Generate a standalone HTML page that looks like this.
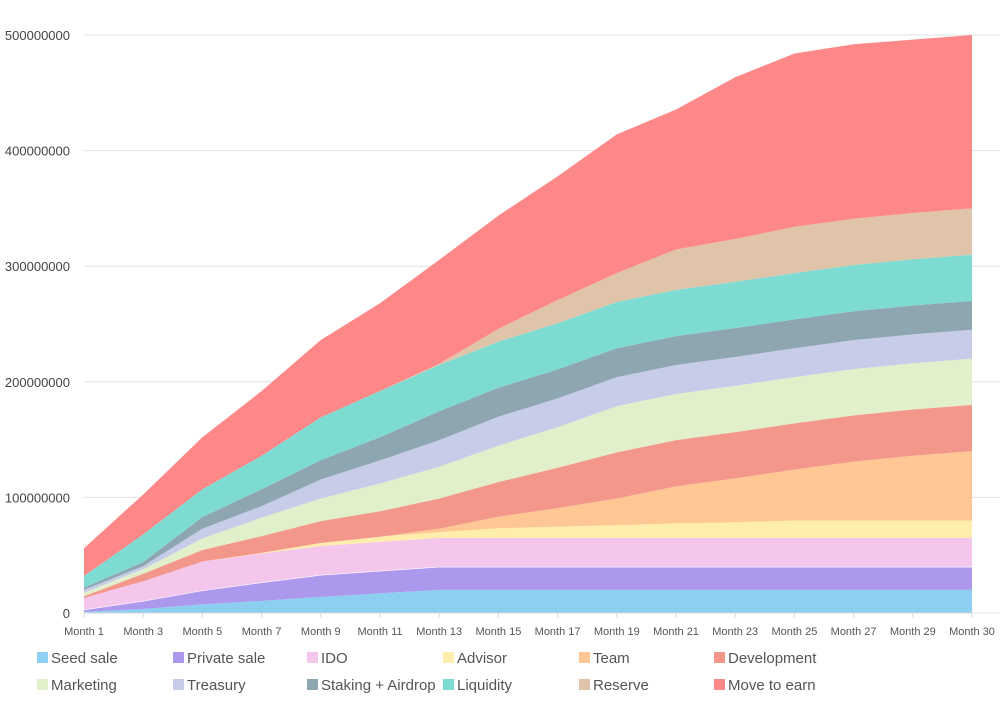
<!DOCTYPE html>
<html><head><meta charset="utf-8"><style>
body{margin:0;background:#fff;width:1005px;height:702px;overflow:hidden;font-family:"Liberation Sans",sans-serif}
svg text{font-family:"Liberation Sans",sans-serif}
</style></head><body>
<svg id="chart" width="1005" height="702" xmlns="http://www.w3.org/2000/svg"></svg>
<script>
const categories=["Month 1","Month 3","Month 5","Month 7","Month 9","Month 11","Month 13","Month 15","Month 17","Month 19","Month 21","Month 23","Month 25","Month 27","Month 29","Month 30"];
const seedSale=[1,3.5,7.5,10.5,14,17,20,20,20,20,20,20,20,20,20,20];
const privateSale=[2,7,12,16,19,19.5,20,20,20,20,20,20,20,20,20,20];
const ido=[10,17,25,25,25,25,25,25,25,25,25,25,25,25,25,25];
const advisor=[0,0,0,0.5,2.5,4.5,5,8.3,9.7,11,12.5,13.5,15,15,15,15];
const team=[0,0,0,0,0,0,3,10,16,23,32,38,44,51,56,60];
const development=[1.5,6.5,10,14.5,19,22,26,30,35,40,40,40,40,40,40,40];
const marketing=[3,4,10,16,19.5,24,27.5,31.5,35,40,40,40,40,40,40,40];
const treasury=[2.5,2.5,8.5,10,16.5,20,23,25,25,25,25,25,25,25,25,25];
const staking=[2,3.5,10,14.5,16.7,20,25,25,25,25,25,25,25,25,25,25];
const liquidity=[10,24,24,29,37,40,40,40,40,40,40,40,40,40,40,40];
const reserve=[0,0,0,0,0,0,1,11,20,25,35,37,40,40,40,40];
const moveToEarn=[24,34.5,45,56,67,76,90,98,107,120,121,140,150,151,150,150];
const seriesNames=["Seed sale","Private sale","IDO","Advisor","Team","Development","Marketing","Treasury","Staking + Airdrop","Liquidity","Reserve","Move to earn"];
const yTicks=[0,100,200,300,400,500];
const yTickLabels=["0","100000000","200000000","300000000","400000000","500000000"];

const series=[seedSale,privateSale,ido,advisor,team,development,marketing,treasury,staking,liquidity,reserve,moveToEarn];
const colors=["#8ccff0","#ac99ee","#f5c6ec","#feedab","#fec794","#f4978b","#e1efcb","#c7cde9","#8da6b0","#7edbd2","#dfc4aa","#fe8888"];
const NS="http://www.w3.org/2000/svg";
const svg=document.getElementById('chart');
const X0=84,X1=972,Y0=613,Y1=35;
function xs(i){return X0+i*(X1-X0)/(categories.length-1);}
function ys(v){return Y0-(v/500)*(Y0-Y1);}
function mk(t,a){const e=document.createElementNS(NS,t);for(const k in a)e.setAttribute(k,a[k]);svg.appendChild(e);return e;}

yTicks.forEach((v,i)=>{
  const g=mk('line',{x1:X0,x2:X1+28,y1:ys(v),y2:ys(v),stroke:'#e0e0e0','stroke-width':1});
  
  
  const t=mk('text',{x:70,y:ys(v)+5,'text-anchor':'end','font-size':13,fill:'#444'});
  t.textContent=yTickLabels[i];
  
  
});

let base=categories.map(()=>0);
series.forEach((s,k)=>{
  const top=base.map((b,i)=>b+s[i]);
  let d='M'+xs(0)+','+ys(top[0]);
  for(let i=1;i<top.length;i++)d+='L'+xs(i)+','+ys(top[i]);
  for(let i=base.length-1;i>=0;i--)d+='L'+xs(i)+','+ys(base[i]);
  d+='Z';
  const p=mk('path',{d:d,fill:colors[k]});
  
  
  base=top;
  if(k===1){
    let ld='M'+xs(0)+','+ys(top[0]);
    for(let i=1;i<top.length;i++)ld+='L'+xs(i)+','+ys(top[i]);
    const l=mk('path',{d:ld,fill:'none',stroke:'#fff','stroke-width':1.2});
    
    
  }
});

const ax=mk('line',{x1:X0,x2:X1,y1:Y0,y2:Y0,stroke:'#d9d9d9','stroke-width':1});


categories.forEach((c,i)=>{
  const tk=mk('line',{x1:xs(i),x2:xs(i),y1:Y0,y2:Y0+5,stroke:'#d9d9d9'});
  
  
  const t=mk('text',{x:xs(i),y:635,'text-anchor':'middle','font-size':11,fill:'#555'});
  t.textContent=c;
  
  
});

const colX=[37,173,307,443,579,714];
seriesNames.forEach((n,k)=>{
  const cx=colX[k%6],cy=k<6?658:685;
  const r=mk('rect',{x:cx,y:cy-6,width:11,height:11,fill:colors[k]});
  
  
  const t=mk('text',{x:cx+14,y:cy+5,'font-size':15,fill:'#555'});
  t.textContent=n;
  
  
});
</script>
</body></html>
